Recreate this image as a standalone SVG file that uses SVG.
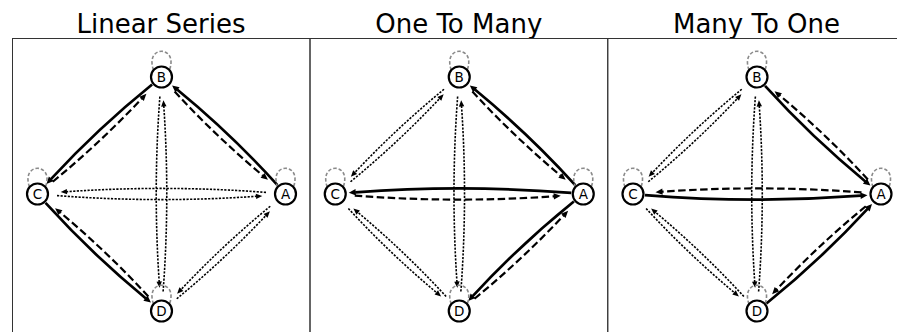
<svg xmlns="http://www.w3.org/2000/svg" width="897" height="332" viewBox="0 0 897 332">
<style>
.title{font-family:"DejaVu Sans",sans-serif;font-size:26px;fill:#000;text-anchor:middle}
.frame{fill:none;stroke:#333;stroke-width:1}
.e{fill:none;stroke:#000}
.s{stroke-width:2.7;marker-end:url(#ahS)}
.d{stroke-width:2.2;stroke-dasharray:7.5,3.5;marker-end:url(#ahD)}
.o{stroke-width:1.6;stroke-dasharray:2.2,1.4;marker-end:url(#ahO)}
.loop{fill:none;stroke:#8a8a8a;stroke-width:1.6;stroke-dasharray:3.5,2}
.node circle{fill:#fff;stroke:#000;stroke-width:2.2}
.node text{font-family:"DejaVu Sans",sans-serif;font-size:13.5px;text-anchor:middle;fill:#000}
</style>
<defs>
<marker id="ahS" markerUnits="userSpaceOnUse" markerWidth="10" markerHeight="10" refX="0" refY="0" orient="auto" overflow="visible"><path d="M-0.5,-3.3L6.5,0L-0.5,3.3z" fill="#000"/></marker>
<marker id="ahD" markerUnits="userSpaceOnUse" markerWidth="10" markerHeight="10" refX="0" refY="0" orient="auto" overflow="visible"><path d="M-0.5,-3.1L6.5,0L-0.5,3.1z" fill="#000"/></marker>
<marker id="ahO" markerUnits="userSpaceOnUse" markerWidth="10" markerHeight="10" refX="0" refY="0" orient="auto" overflow="visible"><path d="M-0.5,-2.7L5.8,0L-0.5,2.7z" fill="#000"/></marker>
</defs>
<rect width="897" height="332" fill="#fff"/>

<text class="title" x="161" y="33">Linear Series</text>
<text class="title" x="458.75" y="33">One To Many</text>
<text class="title" x="756.5" y="33">Many To One</text>
<rect class="frame" x="12.5" y="38.5" width="297.5" height="310"/>
<rect class="frame" x="310" y="38.5" width="297.75" height="310"/>
<rect class="frame" x="607.75" y="38.5" width="297.75" height="310"/>

<!-- Panel 1: Linear Series -->
<g id="panel1">
<g id="p1-connectors">
<path class="e s" transform="translate(285.5 194) rotate(-136.67)" d="M12,1 Q81.25,6.36 150.5,1.59"/>
<path class="e d" transform="translate(161.5 77) rotate(43.33)" d="M19.5,1.55 Q80.5,5.79 141.5,2.17"/>
<path class="e s" transform="translate(161.5 77) rotate(136.67)" d="M12,1 Q81.25,6.36 150.5,1.59"/>
<path class="e d" transform="translate(37.5 194) rotate(-43.33)" d="M19.5,1.55 Q80.5,5.79 141.5,2.17"/>
<path class="e s" transform="translate(37.5 194) rotate(43.33)" d="M12,1 Q81.25,6.36 150.5,1.59"/>
<path class="e d" transform="translate(161.5 311) rotate(-136.67)" d="M19.5,1.55 Q80.5,5.79 141.5,2.17"/>
<path class="e o" transform="translate(285.5 194) rotate(180)" d="M19.5,1.62 Q119.25,9.18 219,2.3"/>
<path class="e o" transform="translate(37.5 194)" d="M19.5,1.62 Q119.25,9.18 219,2.3"/>
<path class="e o" transform="translate(161.5 77) rotate(90)" d="M19.5,1.61 Q112.25,8.57 205,2.29"/>
<path class="e o" transform="translate(161.5 311) rotate(-90)" d="M19.5,1.61 Q112.25,8.57 205,2.29"/>
<path class="e o" transform="translate(285.5 194) rotate(136.67)" d="M19.5,1.55 Q80.5,5.79 141.5,2.17"/>
<path class="e o" transform="translate(161.5 311) rotate(-43.33)" d="M19.5,1.55 Q80.5,5.79 141.5,2.17"/>
<path class="loop" d="M277.5,187 C268.5,162 302.5,162 293.5,187"/>
<path class="loop" d="M153.5,70 C144.5,45 178.5,45 169.5,70"/>
<path class="loop" d="M29.5,187 C20.5,162 54.5,162 45.5,187"/>
<path class="loop" d="M153.5,304 C144.5,279 178.5,279 169.5,304"/>
</g>
<g id="p1-A" class="node"><circle cx="285.5" cy="194" r="10.5"/><text x="285.5" y="198.8">A</text></g>
<g id="p1-B" class="node"><circle cx="161.5" cy="77" r="10.5"/><text x="161.5" y="81.8">B</text></g>
<g id="p1-C" class="node"><circle cx="37.5" cy="194" r="10.5"/><text x="37.5" y="198.8">C</text></g>
<g id="p1-D" class="node"><circle cx="161.5" cy="311" r="10.5"/><text x="161.5" y="315.8">D</text></g>
</g>

<!-- Panel 2: One To Many -->
<g id="panel2" transform="translate(297.75 0)">
<g id="p2-connectors">
<path class="e s" transform="translate(285.5 194) rotate(-136.67)" d="M12,1 Q81.25,6.36 150.5,1.59"/>
<path class="e d" transform="translate(161.5 77) rotate(43.33)" d="M19.5,1.55 Q80.5,5.79 141.5,2.17"/>
<path class="e s" transform="translate(285.5 194) rotate(180)" d="M12,1.03 Q120,9.81 228,1.65"/>
<path class="e d" transform="translate(37.5 194)" d="M19.5,1.62 Q119.25,9.18 219,2.3"/>
<path class="e s" transform="translate(285.5 194) rotate(136.67)" d="M12,1 Q81.25,6.36 150.5,1.59"/>
<path class="e d" transform="translate(161.5 311) rotate(-43.33)" d="M19.5,1.55 Q80.5,5.79 141.5,2.17"/>
<path class="e o" transform="translate(161.5 77) rotate(136.67)" d="M19.5,1.55 Q80.5,5.79 141.5,2.17"/>
<path class="e o" transform="translate(37.5 194) rotate(-43.33)" d="M19.5,1.55 Q80.5,5.79 141.5,2.17"/>
<path class="e o" transform="translate(37.5 194) rotate(43.33)" d="M19.5,1.55 Q80.5,5.79 141.5,2.17"/>
<path class="e o" transform="translate(161.5 311) rotate(-136.67)" d="M19.5,1.55 Q80.5,5.79 141.5,2.17"/>
<path class="e o" transform="translate(161.5 77) rotate(90)" d="M19.5,1.61 Q112.25,8.57 205,2.29"/>
<path class="e o" transform="translate(161.5 311) rotate(-90)" d="M19.5,1.61 Q112.25,8.57 205,2.29"/>
<path class="loop" d="M277.5,187 C268.5,162 302.5,162 293.5,187"/>
<path class="loop" d="M153.5,70 C144.5,45 178.5,45 169.5,70"/>
<path class="loop" d="M29.5,187 C20.5,162 54.5,162 45.5,187"/>
<path class="loop" d="M153.5,304 C144.5,279 178.5,279 169.5,304"/>
</g>
<g id="p2-A" class="node"><circle cx="285.5" cy="194" r="10.5"/><text x="285.5" y="198.8">A</text></g>
<g id="p2-B" class="node"><circle cx="161.5" cy="77" r="10.5"/><text x="161.5" y="81.8">B</text></g>
<g id="p2-C" class="node"><circle cx="37.5" cy="194" r="10.5"/><text x="37.5" y="198.8">C</text></g>
<g id="p2-D" class="node"><circle cx="161.5" cy="311" r="10.5"/><text x="161.5" y="315.8">D</text></g>
</g>

<!-- Panel 3: Many To One -->
<g id="panel3" transform="translate(595.5 0)">
<g id="p3-connectors">
<path class="e s" transform="translate(161.5 77) rotate(43.33)" d="M12,1 Q81.25,6.36 150.5,1.59"/>
<path class="e d" transform="translate(285.5 194) rotate(-136.67)" d="M19.5,1.55 Q80.5,5.79 141.5,2.17"/>
<path class="e s" transform="translate(37.5 194)" d="M12,1.03 Q120,9.81 228,1.65"/>
<path class="e d" transform="translate(285.5 194) rotate(180)" d="M19.5,1.62 Q119.25,9.18 219,2.3"/>
<path class="e s" transform="translate(161.5 311) rotate(-43.33)" d="M12,1 Q81.25,6.36 150.5,1.59"/>
<path class="e d" transform="translate(285.5 194) rotate(136.67)" d="M19.5,1.55 Q80.5,5.79 141.5,2.17"/>
<path class="e o" transform="translate(161.5 77) rotate(136.67)" d="M19.5,1.55 Q80.5,5.79 141.5,2.17"/>
<path class="e o" transform="translate(37.5 194) rotate(-43.33)" d="M19.5,1.55 Q80.5,5.79 141.5,2.17"/>
<path class="e o" transform="translate(37.5 194) rotate(43.33)" d="M19.5,1.55 Q80.5,5.79 141.5,2.17"/>
<path class="e o" transform="translate(161.5 311) rotate(-136.67)" d="M19.5,1.55 Q80.5,5.79 141.5,2.17"/>
<path class="e o" transform="translate(161.5 77) rotate(90)" d="M19.5,1.61 Q112.25,8.57 205,2.29"/>
<path class="e o" transform="translate(161.5 311) rotate(-90)" d="M19.5,1.61 Q112.25,8.57 205,2.29"/>
<path class="loop" d="M277.5,187 C268.5,162 302.5,162 293.5,187"/>
<path class="loop" d="M153.5,70 C144.5,45 178.5,45 169.5,70"/>
<path class="loop" d="M29.5,187 C20.5,162 54.5,162 45.5,187"/>
<path class="loop" d="M153.5,304 C144.5,279 178.5,279 169.5,304"/>
</g>
<g id="p3-A" class="node"><circle cx="285.5" cy="194" r="10.5"/><text x="285.5" y="198.8">A</text></g>
<g id="p3-B" class="node"><circle cx="161.5" cy="77" r="10.5"/><text x="161.5" y="81.8">B</text></g>
<g id="p3-C" class="node"><circle cx="37.5" cy="194" r="10.5"/><text x="37.5" y="198.8">C</text></g>
<g id="p3-D" class="node"><circle cx="161.5" cy="311" r="10.5"/><text x="161.5" y="315.8">D</text></g>
</g>
</svg>
